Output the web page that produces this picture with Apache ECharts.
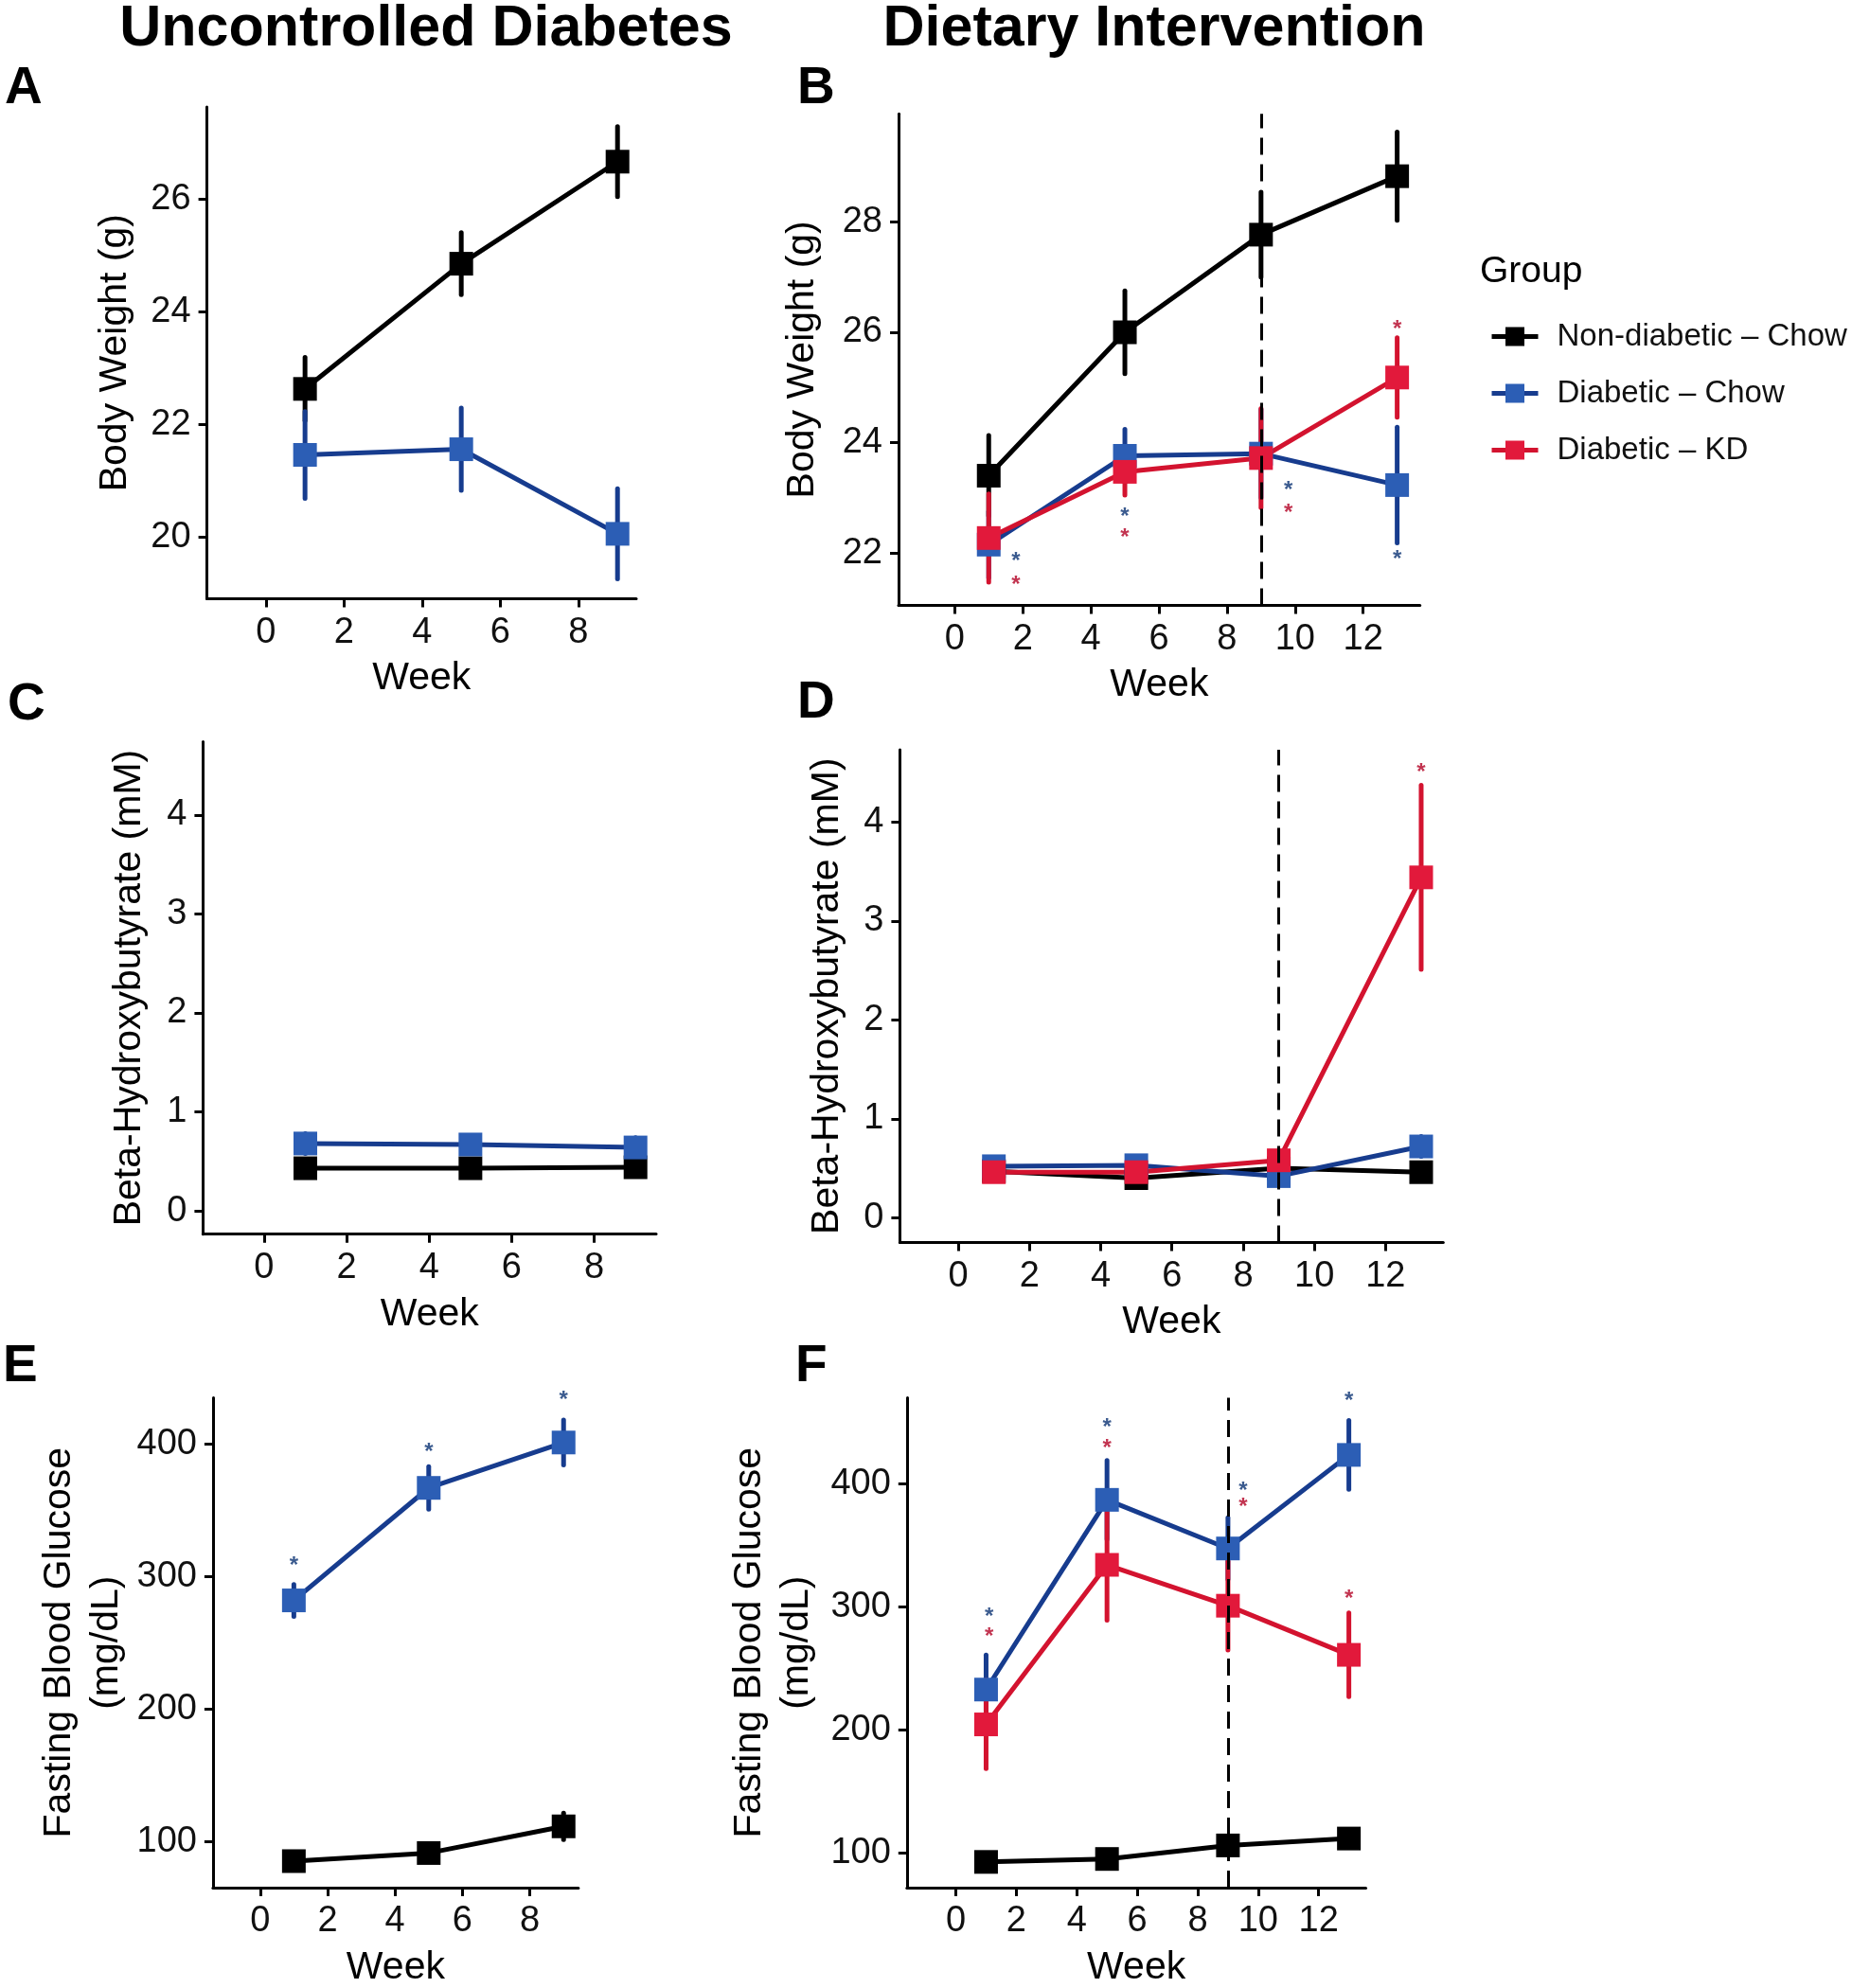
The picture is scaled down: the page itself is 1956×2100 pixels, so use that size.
<!DOCTYPE html>
<html><head><meta charset="utf-8">
<script src="https://cdn.jsdelivr.net/npm/echarts@6/dist/echarts.min.js"></script>
<style>html,body{margin:0;padding:0;background:#fff}#c{width:1956px;height:2100px}</style>
</head><body><div id="c"></div>
<script>
// ---------- DATA ----------
const groupNames = ['Non-diabetic – Chow', 'Diabetic – Chow', 'Diabetic – KD'];
const weeksUncontrolled = [1, 5, 9];
const weeksIntervention = [1, 5, 9, 13];

// A: Body weight, uncontrolled diabetes
const bwA_nonDiabChow = [22.63, 24.85, 26.66];
const bwA_nonDiabChow_se = [0.56, 0.55, 0.62];
const bwA_diabChow = [21.46, 21.56, 20.06];
const bwA_diabChow_se = [0.77, 0.73, 0.80];

// B: Body weight, dietary intervention
const bwB_nonDiabChow = [23.40, 26.00, 27.77, 28.83];
const bwB_nonDiabChow_se = [0.73, 0.75, 0.77, 0.80];
const bwB_diabChow = [22.15, 23.76, 23.80, 23.23];
const bwB_diabChow_se = [0.60, 0.48, 0.80, 1.05];
const bwB_diabKD = [22.27, 23.47, 23.72, 25.18];
const bwB_diabKD_se = [0.80, 0.42, 0.90, 0.72];

// C: Beta-hydroxybutyrate, uncontrolled diabetes
const bhbC_nonDiabChow = [0.43, 0.43, 0.44];
const bhbC_nonDiabChow_se = [0.07, 0.07, 0.07];
const bhbC_diabChow = [0.68, 0.67, 0.64];
const bhbC_diabChow_se = [0.10, 0.08, 0.10];

// D: Beta-hydroxybutyrate, dietary intervention
const bhbD_nonDiabChow = [0.47, 0.40, 0.50, 0.46];
const bhbD_nonDiabChow_se = [0.05, 0.05, 0.05, 0.08];
const bhbD_diabChow = [0.52, 0.53, 0.42, 0.72];
const bhbD_diabChow_se = [0.06, 0.07, 0.08, 0.10];
const bhbD_diabKD = [0.46, 0.46, 0.58, 3.44];
const bhbD_diabKD_se = [0.06, 0.06, 0.10, 0.93];

// E: Fasting blood glucose, uncontrolled diabetes
const fbgE_nonDiabChow = [85.5, 91.6, 111.7];
const fbgE_nonDiabChow_se = [4, 4, 10];
const fbgE_diabChow = [282, 366.8, 401];
const fbgE_diabChow_se = [12, 16, 17];

// F: Fasting blood glucose, dietary intervention
const fbgF_nonDiabChow = [92.6, 95, 106, 111.6];
const fbgF_nonDiabChow_se = [4, 4, 6, 5];
const fbgF_diabChow = [232.6, 386.7, 347.2, 423.2];
const fbgF_diabChow_se = [28, 32, 25, 28];
const fbgF_diabKD = [204.3, 333.9, 300.7, 260.8];
const fbgF_diabKD_se = [36, 45, 36, 34];

// Significance asterisks [week, value]
const starsB_diabChow = [[1.8, 21.94], [5, 22.75], [9.8, 23.23], [13, 21.99]];
const starsB_diabKD = [[1.8, 21.51], [5, 22.38], [9.8, 22.83], [13, 26.16]];
const starsD_diabKD = [[13, 4.56]];
const starsE_diabChow = [[1, 312], [5, 398], [9, 437]];
const starsF_diabChow = [[1.1, 296.5], [5, 450], [9.5, 398.3], [13, 471.4]];
const starsF_diabKD = [[1.1, 279.7], [5, 433.2], [9.5, 385], [13, 310.7]];

// Tick labels
const xTicksUncontrolled = [0, 2, 4, 6, 8];
const xTicksIntervention = [0, 2, 4, 6, 8, 10, 12];
const yTicksBW_A = [20, 22, 24, 26];
const yTicksBW_B = [22, 24, 26, 28];
const yTicksBHB = [0, 1, 2, 3, 4];
const yTicksFBG = [100, 200, 300, 400];
const interventionStartWeek = 9;

// ---------- STYLE / LAYOUT ----------
const FONT = '"Liberation Sans", Arial, Helvetica, sans-serif';
const styles = [
  {line: '#000000', point: '#000000', star: '#000000'},
  {line: '#173c8e', point: '#2c5eb5', star: '#3b5b8f'},
  {line: '#d3132f', point: '#e2193b', star: '#c23450'}
];

const panels = [
  {grid: {left: 218.6, top: 113, width: 453.4, height: 519.4}, x: [-1.51, 9.48], y: [18.91, 27.63],
   xt: xTicksUncontrolled, yt: yTicksBW_A, yName: 'Body Weight (g)', yGap: 72, weeks: weeksUncontrolled,
   groups: [[bwA_nonDiabChow, bwA_nonDiabChow_se], [bwA_diabChow, bwA_diabChow_se]], stars: [null, null], vline: false},
  {grid: {left: 949, top: 120.3, width: 550.7, height: 519.1}, x: [-1.65, 13.67], y: [21.05, 29.96],
   xt: xTicksIntervention, yt: yTicksBW_B, yName: 'Body Weight (g)', yGap: 76, weeks: weeksIntervention,
   groups: [[bwB_nonDiabChow, bwB_nonDiabChow_se], [bwB_diabChow, bwB_diabChow_se], [bwB_diabKD, bwB_diabKD_se]],
   stars: [null, starsB_diabChow, starsB_diabKD], vline: true},
  {grid: {left: 214.4, top: 783.4, width: 478.6, height: 520.3}, x: [-1.48, 9.5], y: [-0.236, 4.74],
   xt: xTicksUncontrolled, yt: yTicksBHB, yName: 'Beta-Hydroxybutyrate (mM)', yGap: 53, weeks: weeksUncontrolled,
   groups: [[bhbC_nonDiabChow, bhbC_nonDiabChow_se], [bhbC_diabChow, bhbC_diabChow_se]], stars: [null, null], vline: false},
  {grid: {left: 950.4, top: 792, width: 573.9, height: 520.4}, x: [-1.64, 13.62], y: [-0.25, 4.73],
   xt: xTicksIntervention, yt: yTicksBHB, yName: 'Beta-Hydroxybutyrate (mM)', yGap: 52, weeks: weeksIntervention,
   groups: [[bhbD_nonDiabChow, bhbD_nonDiabChow_se], [bhbD_diabChow, bhbD_diabChow_se], [bhbD_diabKD, bhbD_diabKD_se]],
   stars: [null, null, starsD_diabKD], vline: true},
  {grid: {left: 224.9, top: 1476.4, width: 386, height: 520.4}, x: [-1.40, 9.44], y: [65.5, 434.8],
   xt: xTicksUncontrolled, yt: yTicksFBG, yName: 'Fasting Blood Glucose\n(mg/dL)', yGap: 87, weeks: weeksUncontrolled,
   groups: [[fbgE_nonDiabChow, fbgE_nonDiabChow_se], [fbgE_diabChow, fbgE_diabChow_se]], stars: [null, starsE_diabChow], vline: false},
  {grid: {left: 957.8, top: 1476.4, width: 484.7, height: 519.5}, x: [-1.62, 13.56], y: [71.7, 469.7],
   xt: xTicksIntervention, yt: yTicksFBG, yName: 'Fasting Blood Glucose\n(mg/dL)', yGap: 91, weeks: weeksIntervention,
   groups: [[fbgF_nonDiabChow, fbgF_nonDiabChow_se], [fbgF_diabChow, fbgF_diabChow_se], [fbgF_diabKD, fbgF_diabKD_se]],
   stars: [null, starsF_diabChow, starsF_diabKD], vline: true}
];

function errRender(color) {
  return function (params, api) {
    const x = api.value(0), lo = api.value(1), hi = api.value(2);
    const p1 = api.coord([x, lo]), p2 = api.coord([x, hi]);
    return {type: 'line', shape: {x1: p1[0], y1: p1[1], x2: p2[0], y2: p2[1]},
      style: {stroke: color, lineWidth: 5, lineCap: 'round'}};
  };
}
function starRender(color) {
  const fs = 24;
  return function (params, api) {
    const p = api.coord([api.value(0), api.value(1)]);
    return {type: 'text', x: p[0], y: p[1] + 0.26 * fs,
      style: {text: '*', fill: color, font: 'bold ' + fs + 'px ' + FONT,
        align: 'center', verticalAlign: 'middle', textAlign: 'center', textVerticalAlign: 'middle'}};
  };
}

const grids = [], xAxes = [], yAxes = [], series = [];
const errSeries = [], lineSeries = [], starSeries = [];
panels.forEach((p, i) => {
  grids.push(Object.assign({containLabel: false}, p.grid));
  xAxes.push({
    type: 'value', gridIndex: i, min: p.x[0], max: p.x[1],
    name: 'Week', nameLocation: 'middle', nameGap: 64,
    nameTextStyle: {fontSize: 41, color: '#000', fontFamily: FONT},
    axisLine: {show: true, onZero: false, lineStyle: {color: '#000', width: 3}},
    axisTick: {show: true, length: 9, lineStyle: {color: '#000', width: 3}, customValues: p.xt},
    axisLabel: {fontSize: 38, color: '#111', margin: 17, fontFamily: FONT, customValues: p.xt},
    splitLine: {show: false}
  });
  yAxes.push({
    type: 'value', gridIndex: i, min: p.y[0], max: p.y[1],
    name: p.yName, nameLocation: 'middle', nameRotate: 90, nameGap: p.yGap,
    nameTextStyle: {fontSize: 41, lineHeight: 50, color: '#000', fontFamily: FONT},
    axisLine: {show: true, onZero: false, lineStyle: {color: '#000', width: 3}},
    axisTick: {show: true, length: 9, lineStyle: {color: '#000', width: 3}, customValues: p.yt},
    axisLabel: {fontSize: 38, color: '#111', margin: 17, fontFamily: FONT, customValues: p.yt},
    splitLine: {show: false}
  });
  p.groups.forEach((g, k) => {
    const vals = g[0], se = g[1], st = styles[k];
    errSeries.push({
      type: 'custom', name: groupNames[k] + ' (SEM)', xAxisIndex: i, yAxisIndex: i, silent: true, z: 2,
      data: p.weeks.map((w, j) => [w, vals[j] - se[j], vals[j] + se[j]]),
      encode: {x: 0, y: [1, 2]}, renderItem: errRender(st.line)
    });
    const ls = {
      type: 'line', name: groupNames[k], xAxisIndex: i, yAxisIndex: i, z: 3,
      data: p.weeks.map((w, j) => [w, vals[j]]),
      symbol: 'rect', symbolSize: 25, showSymbol: true,
      lineStyle: {color: st.line, width: 5}, itemStyle: {color: st.point},
      emphasis: {disabled: true}
    };
    if (p.vline && k === 0) {
      ls.markLine = {silent: true, symbol: ['none', 'none'], label: {show: false},
        lineStyle: {color: '#000', type: [18, 10], width: 3}, data: [{xAxis: interventionStartWeek}]};
    }
    lineSeries.push(ls);
    if (p.stars[k]) {
      starSeries.push({
        type: 'custom', name: groupNames[k] + ' (p<0.05)', xAxisIndex: i, yAxisIndex: i, silent: true, z: 4, clip: false,
        data: p.stars[k], encode: {x: 0, y: 1}, renderItem: starRender(st.star)
      });
    }
  });
});
series.push(...errSeries, ...lineSeries, ...starSeries);

function label(text, x, y, size, align) {
  return {type: 'text', x: x, y: y, silent: true,
    style: {text: text, font: 'bold ' + size + 'px ' + FONT, fill: '#000',
      align: align, textAlign: align, verticalAlign: 'middle', textVerticalAlign: 'middle'}};
}

const option = {
  animation: false,
  backgroundColor: '#ffffff',
  grid: grids, xAxis: xAxes, yAxis: yAxes, series: series,
  legend: {
    data: groupNames, orient: 'vertical', left: 1568, top: 334,
    itemWidth: 49, itemHeight: 25, itemGap: 27, selectedMode: false,
    textStyle: {fontSize: 33, color: '#111', fontFamily: FONT, padding: [0, 0, 0, 15]},
    lineStyle: {width: 5}
  },
  graphic: [
    label('Uncontrolled Diabetes', 450, 31, 61, 'center'),
    label('Dietary Intervention', 1219, 31, 61, 'center'),
    label('A', 5, 94, 55, 'left'),
    label('B', 842, 94, 55, 'left'),
    label('C', 8, 745, 55, 'left'),
    label('D', 842, 743, 55, 'left'),
    label('E', 3, 1444, 55, 'left'),
    label('F', 840, 1444, 55, 'left'),
    {type: 'text', x: 1563, y: 287, silent: true,
     style: {text: 'Group', font: '39px ' + FONT, fill: '#000', align: 'left', textAlign: 'left',
       verticalAlign: 'middle', textVerticalAlign: 'middle'}}
  ]
};

const chart = echarts.init(document.getElementById('c'), null, {renderer: 'canvas', width: 1956, height: 2100});
chart.setOption(option);
</script>
</body></html>
